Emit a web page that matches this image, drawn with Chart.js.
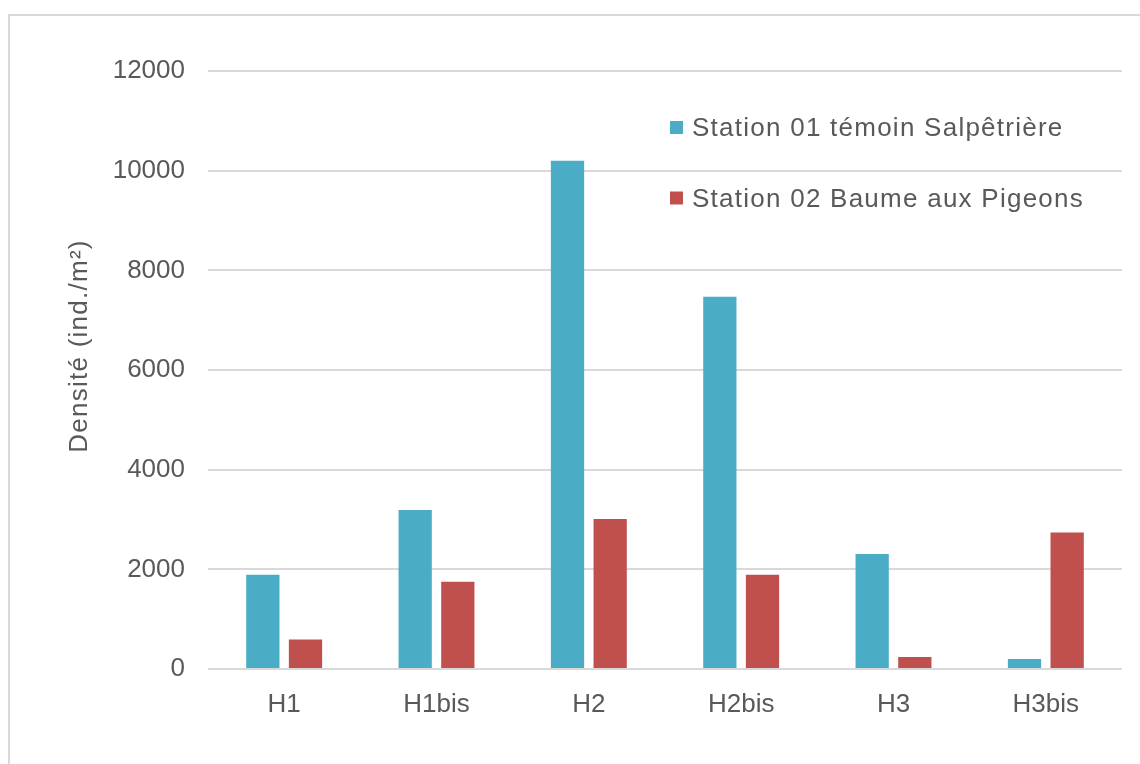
<!DOCTYPE html>
<html>
<head>
<meta charset="utf-8">
<script src="https://cdn.jsdelivr.net/npm/chart.js@4/dist/chart.umd.min.js"></script>
<style>
  html, body { margin: 0; padding: 0; background: #ffffff; }
  #wrap { width: 1140px; height: 764px; position: relative; }
</style>
</head>
<body>
<div id="wrap"><canvas id="c" width="1140" height="764"></canvas></div>
<script>
const categories = ["H1", "H1bis", "H2", "H2bis", "H3", "H3bis"];
const station01 = [1890, 3190, 10200, 7470, 2310, 200];
const station02 = [590, 1750, 3010, 1890, 240, 2740];
const seriesLabels = ["Station 01 témoin Salpêtrière", "Station 02 Baume aux Pigeons"];
const yTickValues = [0, 2000, 4000, 6000, 8000, 10000, 12000];
const yTitle = "Densité (ind./m²)";

const TEXT = "#595959";
const FONT = "'Liberation Sans', Arial, sans-serif";

const decorPlugin = {
  id: "decor",
  beforeDraw(chart) {
    const ctx = chart.ctx;
    ctx.save();
    ctx.fillStyle = "#ffffff";
    ctx.fillRect(0, 0, chart.width, chart.height);
    ctx.strokeStyle = "#D9D9D9";
    ctx.lineWidth = 2;
    ctx.strokeRect(9, 15, 1300, 900);
    ctx.restore();
  },
  afterDraw(chart) {
    const ctx = chart.ctx;
    ctx.save();
    ctx.font = "26px " + FONT;
    ctx.fillStyle = TEXT;
    if ("letterSpacing" in ctx) ctx.letterSpacing = "1.25px";
    // y axis title
    ctx.save();
    ctx.translate(80, 346);
    ctx.rotate(-Math.PI / 2);
    ctx.textAlign = "center";
    ctx.textBaseline = "middle";
    ctx.fillText(yTitle, 0, 0);
    ctx.restore();
    // legend
    chart.data.datasets.forEach((ds, i) => {
      const base = 136 + i * 70.5;
      ctx.fillStyle = ds.backgroundColor;
      ctx.fillRect(670, base - 15, 13, 13);
      ctx.fillStyle = TEXT;
      ctx.textAlign = "left";
      ctx.textBaseline = "alphabetic";
      ctx.fillText(ds.label, 692, base);
    });
    ctx.restore();
  }
};

new Chart(document.getElementById("c"), {
  type: "bar",
  data: {
    labels: categories,
    datasets: [
      { label: seriesLabels[0], data: station01, backgroundColor: "#4BACC6", categoryPercentage: 0.56, barPercentage: 0.78 },
      { label: seriesLabels[1], data: station02, backgroundColor: "#C0504D", categoryPercentage: 0.56, barPercentage: 0.78 }
    ]
  },
  options: {
    responsive: false,
    animation: false,
    devicePixelRatio: 1,
    layout: { padding: { left: 40, top: 71, right: 18, bottom: 0 } },
    plugins: { legend: { display: false }, tooltip: { enabled: false } },
    scales: {
      x: {
        grid: { display: false, drawTicks: false },
        border: { display: false },
        ticks: { color: TEXT, font: { family: FONT, size: 26 }, padding: 20, maxRotation: 0 },
        afterFit(scale) { scale.height = 95; }
      },
      y: {
        min: 0,
        max: 12000,
        grid: { color: "#D9D9D9", lineWidth: 2, drawTicks: false },
        border: { display: false },
        ticks: { color: TEXT, font: { family: FONT, size: 26 }, padding: 23, callback: v => String(v) },
        afterBuildTicks(scale) { scale.ticks = yTickValues.map(v => ({ value: v })); },
        afterFit(scale) { scale.width = 168; }
      }
    }
  },
  plugins: [decorPlugin]
});
</script>
</body>
</html>
